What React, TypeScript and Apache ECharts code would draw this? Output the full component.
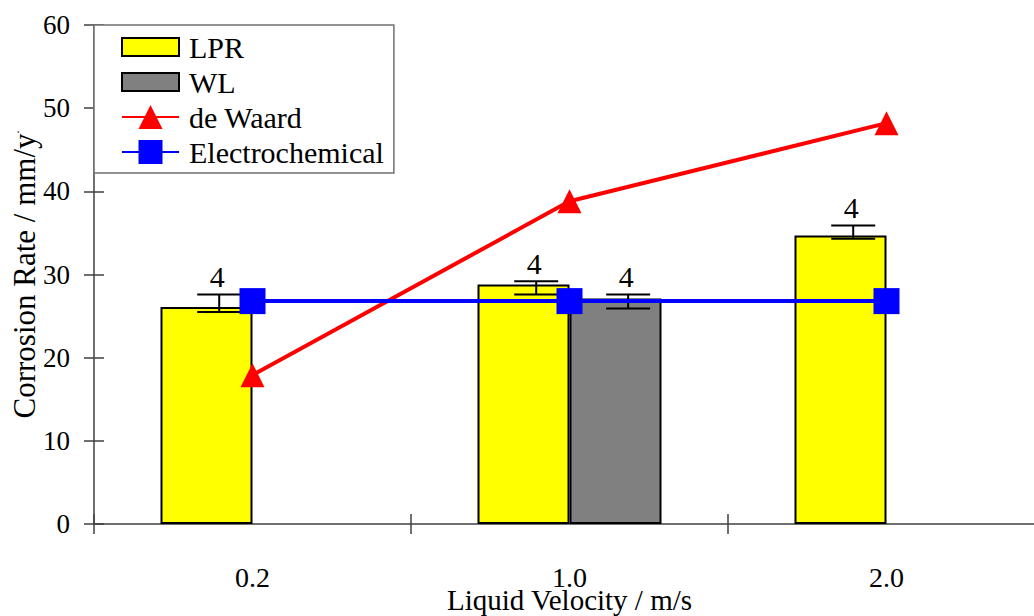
import React, { useEffect, useRef } from 'react';
import * as echarts from 'echarts';

const categories = ['0.2', '1.0', '2.0'];
const lprValues = [26.1, 28.8, 34.7];
const wlValues: (number | string)[] = ['-', 27.1, '-'];
const deWaardValues = [17.9, 38.8, 48.2];
const electrochemicalValues = [26.8, 26.8, 26.8];
const lprErrLow = [25.5, 27.6, 34.3];
const lprErrHigh = [27.6, 29.2, 35.9];
const wlErrLow: (number | null)[] = [null, 25.9, null];
const wlErrHigh: (number | null)[] = [null, 27.6, null];
const lprCounts = ['4', '4', '4'];
const wlCounts: (string | null)[] = [null, '4', null];
const yMin = 0;
const yMax = 60;
const yStep = 10;

const FONT = "'Liberation Serif', 'Times New Roman', serif";

const errorData: number[][] = [];
lprErrLow.forEach((lo, i) => errorData.push([i, lo, lprErrHigh[i], -1]));
wlErrLow.forEach((lo, i) => {
  if (lo != null && wlErrHigh[i] != null) errorData.push([i, lo, wlErrHigh[i] as number, 1]);
});

export default function App() {
  const ref = useRef<HTMLDivElement>(null);
  useEffect(() => {
    if (!ref.current) return;
    const chart = echarts.init(ref.current, undefined, { renderer: 'svg' });
    const axisColor = '#404040';
    const rectIcon = 'path://M0,0H57V18H0Z';
    chart.setOption({
      animation: false,
      backgroundColor: '#fff',
      textStyle: { fontFamily: FONT, color: '#000' },
      grid: {
        left: 94,
        top: 25,
        right: -11,
        bottom: 92,
        containLabel: false,
        outerBoundsMode: 'none',
      },
      legend: {
        orient: 'vertical',
        left: 94,
        top: 25,
        padding: [7, 10, 6, 27],
        itemWidth: 57,
        itemHeight: 30,
        itemGap: 5,
        borderColor: '#707070',
        borderWidth: 1.5,
        backgroundColor: '#fff',
        textStyle: { fontFamily: FONT, fontSize: 30, color: '#000', padding: [0, 0, 0, 5] },
        data: [
          { name: 'LPR', icon: rectIcon },
          { name: 'WL', icon: rectIcon },
          { name: 'de Waard' },
          { name: 'Electrochemical' },
        ],
        symbolKeepAspect: true,
      },
      xAxis: [
        {
          type: 'category',
          data: categories,
          position: 'bottom',
          axisLine: { lineStyle: { color: axisColor, width: 1.5 } },
          axisTick: { show: true, length: 10, lineStyle: { color: axisColor, width: 1.5 } },
          axisLabel: { fontFamily: FONT, fontSize: 28, lineHeight: 20, color: '#000', margin: 43 },
          name: 'Liquid Velocity / m/s',
          nameLocation: 'middle',
          nameGap: 66,
          nameMoveOverlap: false,
          nameTextStyle: { fontFamily: FONT, fontSize: 29, lineHeight: 20, color: '#000' },
        },
        {
          type: 'category',
          data: categories,
          position: 'bottom',
          axisLine: { show: false },
          axisTick: { show: true, inside: true, length: 10, lineStyle: { color: axisColor, width: 1.5 } },
          axisLabel: { show: false },
        },
      ],
      yAxis: [
        {
          type: 'value',
          min: yMin,
          max: yMax,
          interval: yStep,
          position: 'left',
          axisLine: { show: true, lineStyle: { color: axisColor, width: 1.5 } },
          axisTick: { show: true, length: 10, lineStyle: { color: axisColor, width: 1.5 } },
          splitLine: { show: false },
          axisLabel: { fontFamily: FONT, fontSize: 27, color: '#000', margin: 24 },
          name: 'Corrosion Rate / mm/y{s|.}',
          nameLocation: 'middle',
          nameGap: 54,
          nameMoveOverlap: false,
          nameTextStyle: {
            fontFamily: FONT,
            fontSize: 31,
            color: '#000',
            rich: { s: { fontFamily: FONT, fontSize: 12, color: '#000', verticalAlign: 'top' } },
          },
        },
        {
          type: 'value',
          min: yMin,
          max: yMax,
          interval: yStep,
          position: 'left',
          axisLine: { show: false },
          axisTick: { show: true, inside: true, length: 10, lineStyle: { color: axisColor, width: 1.5 } },
          splitLine: { show: false },
          axisLabel: { show: false },
        },
      ],
      series: [
        {
          name: 'LPR',
          type: 'bar',
          data: lprValues,
          barWidth: 92,
          barGap: '0%',
          itemStyle: { color: '#ffff00', borderColor: '#000', borderWidth: 2 },
          z: 2,
        },
        {
          name: 'WL',
          type: 'bar',
          data: wlValues,
          barWidth: 92,
          barGap: '0%',
          itemStyle: { color: '#808080', borderColor: '#000', borderWidth: 2 },
          z: 2,
        },
        {
          name: 'errors',
          type: 'custom',
          data: errorData,
          encode: { x: 0, y: [1, 2] },
          clip: false,
          z: 3,
          silent: true,
          renderItem: (params: any, api: any) => {
            const i = api.value(0);
            const lo = api.value(1);
            const hi = api.value(2);
            const side = api.value(3);
            const band = api.size([1, 0])[0];
            const bw = band * 0.29;
            const pHi = api.coord([i, hi]);
            const pLo = api.coord([i, lo]);
            const cx = pHi[0] + (side * bw) / 2 + band * 0.04;
            const half = 22;
            const label = side < 0 ? lprCounts[i] : wlCounts[i];
            const st = { stroke: '#000', lineWidth: 2 };
            return {
              type: 'group',
              children: [
                { type: 'line', shape: { x1: cx, y1: pHi[1], x2: cx, y2: pLo[1] }, style: st },
                { type: 'line', shape: { x1: cx - half, y1: pHi[1], x2: cx + half, y2: pHi[1] }, style: st },
                { type: 'line', shape: { x1: cx - half, y1: pLo[1], x2: cx + half, y2: pLo[1] }, style: st },
                {
                  type: 'text',
                  x: cx - 2,
                  y: pHi[1] - 18,
                  style: {
                    text: label || '',
                    fontFamily: FONT,
                    fontSize: 30,
                    fill: '#000',
                    align: 'center',
                    verticalAlign: 'middle',
                  },
                },
              ],
            };
          },
        },
        {
          name: 'de Waard',
          type: 'line',
          data: deWaardValues,
          symbol: 'triangle',
          symbolSize: 24,
          lineStyle: { color: '#ff0000', width: 4 },
          itemStyle: { color: '#ff0000' },
          z: 4,
        },
        {
          name: 'Electrochemical',
          type: 'line',
          data: electrochemicalValues,
          symbol: 'rect',
          symbolSize: 26,
          lineStyle: { color: '#0000ff', width: 4 },
          itemStyle: { color: '#0000ff' },
          z: 5,
        },
      ],
    });
    return () => chart.dispose();
  }, []);
  return (
    <div
      ref={ref}
      style={{ position: 'absolute', left: 0, top: 0, width: 1034, height: 616 }}
    />
  );
}
